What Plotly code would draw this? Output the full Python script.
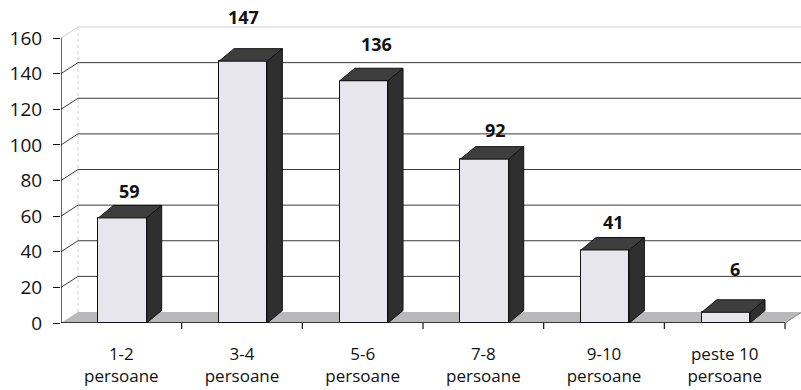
import plotly.graph_objects as go

# ---- data ----
categories = ["1-2<br>persoane", "3-4<br>persoane", "5-6<br>persoane",
              "7-8<br>persoane", "9-10<br>persoane", "peste 10<br>persoane"]
values = [59, 147, 136, 92, 41, 6]
y_ticks = [0, 20, 40, 60, 80, 100, 120, 140, 160]

# label nudges (pixels) - style only
label_dx = [8, 1, 14, 12, 9, 10]
label_dy = [27, 44, 37, 29, 28, 43]

# ---- geometry / style ----
W, H = 801, 390
ML, MR, MT, MB = 61, 0, 0, 67
plot_w = W - ML - MR
plot_h = H - MT - MB
cat_px = 120.67
x0 = -0.5
x_max = x0 + plot_w / cat_px
px_per_unit = 285 / 160.0
y_max = plot_h / px_per_unit

n = len(values)
x_end = n - 0.5

def px2x(p):
    return p / cat_px

def px2y(p):
    return p / px_per_unit

wall_dx, wall_dy = px2x(17), px2y(11)
bar_dx, bar_dy = px2x(15), px2y(12.5)
half_w = 0.2

FRONT = "#e6e6ec"
TOP = "#3e3e3e"
SIDE = "#2f2f2f"
FLOOR = "#b9b9bc"
GRID = "#3a3a3a"
LIGHT = "#cfcfcf"
TXT = "#111111"

fig = go.Figure()
shapes = []

# floor
shapes.append(dict(type="path", xref="x", yref="y", layer="below",
                   path=f"M{x0},0 L{x_end},0 L{x_end+wall_dx},{wall_dy} L{x0+wall_dx},{wall_dy} Z",
                   fillcolor=FLOOR, line=dict(width=0)))
# right floor edge
shapes.append(dict(type="line", xref="x", yref="y", layer="below",
                   x0=x_end, y0=0, x1=x_end + wall_dx, y1=wall_dy,
                   line=dict(color="#8a8a8a", width=1)))
# left wall vertical (dashed, light)
top_v = y_ticks[-1]
shapes.append(dict(type="line", xref="x", yref="y", layer="below",
                   x0=x0 + wall_dx, y0=wall_dy, x1=x0 + wall_dx, y1=top_v + wall_dy,
                   line=dict(color=LIGHT, width=1, dash="dot")))
# gridlines on wall
for v in y_ticks[1:]:
    col = LIGHT if v == top_v else GRID
    shapes.append(dict(type="line", xref="x", yref="y", layer="below",
                       x0=x0, y0=v, x1=x0 + wall_dx, y1=v + wall_dy,
                       line=dict(color=col, width=1)))
    shapes.append(dict(type="line", xref="x", yref="y", layer="below",
                       x0=x0 + wall_dx, y0=v + wall_dy, x1=x_max, y1=v + wall_dy,
                       line=dict(color=col, width=1)))
# axes lines
shapes.append(dict(type="line", xref="x", yref="y", layer="above",
                   x0=x0, y0=0, x1=x_end, y1=0, line=dict(color="#111", width=1.3)))
shapes.append(dict(type="line", xref="x", yref="y", layer="above",
                   x0=x0, y0=0, x1=x0, y1=top_v, line=dict(color="#111", width=1.3)))
# category boundary ticks
for k in range(1, n + 1):
    shapes.append(dict(type="line", xref="x", yref="paper",
                       x0=x0 + k, y0=0, x1=x0 + k, y1=-6 / plot_h,
                       line=dict(color="#111", width=1.2)))

# front faces
fig.add_trace(go.Bar(x=[i + 0.01 for i in range(n)], y=values, width=2 * half_w,
                     marker=dict(color=FRONT, line=dict(color="#111", width=1)),
                     hoverinfo="skip", showlegend=False))

# top and side faces
for i, v in enumerate(values):
    xl, xr = i + 0.01 - half_w, i + 0.01 + half_w
    fig.add_trace(go.Scatter(
        x=[xl, xr, xr + bar_dx, xl + bar_dx, xl],
        y=[v, v, v + bar_dy, v + bar_dy, v],
        mode="lines", fill="toself", fillcolor=TOP,
        line=dict(color="#111", width=1), hoverinfo="skip", showlegend=False))
    fig.add_trace(go.Scatter(
        x=[xr, xr, xr + bar_dx, xr + bar_dx, xr],
        y=[0, v, v + bar_dy, bar_dy, 0],
        mode="lines", fill="toself", fillcolor=SIDE,
        line=dict(color="#111", width=1), hoverinfo="skip", showlegend=False))

annotations = []
for i, v in enumerate(values):
    annotations.append(dict(x=i, y=v, xref="x", yref="y", text=f"<b>{v}</b>",
                            showarrow=False, xanchor="center", yanchor="middle",
                            xshift=label_dx[i], yshift=label_dy[i],
                            font=dict(family="Open Sans", size=18, color=TXT)))

fig.update_layout(
    width=W, height=H,
    margin=dict(l=ML, r=MR, t=MT, b=MB),
    paper_bgcolor="white", plot_bgcolor="white",
    font=dict(family="Open Sans", size=17, color=TXT),
    shapes=shapes, annotations=annotations,
    xaxis=dict(range=[x0, x_max], tickmode="array", tickvals=list(range(n)),
               ticktext=categories, showgrid=False, zeroline=False, showline=False,
               ticks="", ticklabelstandoff=19, fixedrange=True, automargin=False,
               tickfont=dict(family="Open Sans", size=17, color=TXT)),
    yaxis=dict(range=[0, y_max], tickmode="array", tickvals=y_ticks,
               ticktext=[str(t) for t in y_ticks], showgrid=False, zeroline=False,
               showline=False, ticks="outside", ticklen=7, tickcolor="#111",
               ticklabelstandoff=7, fixedrange=True, automargin=False,
               tickfont=dict(family="Open Sans", size=19, color=TXT)),
    bargap=0,
)

fig.write_html("out.html")
